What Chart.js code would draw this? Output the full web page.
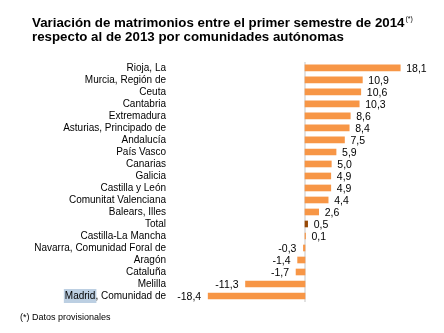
<!DOCTYPE html>
<html>
<head>
<meta charset="utf-8">
<script src="https://cdn.jsdelivr.net/npm/chart.js@4"></script>
<style>
  html, body { margin: 0; padding: 0; background: #fff; }
  #wrap { width: 444px; height: 333px; position: relative; }
</style>
</head>
<body>
<div id="wrap"><canvas id="myChart"></canvas></div>
<script>
// datos
const comunidades = [
    'Rioja, La', 'Murcia, Región de', 'Ceuta', 'Cantabria', 'Extremadura',
    'Asturias, Principado de', 'Andalucía', 'País Vasco', 'Canarias', 'Galicia',
    'Castilla y León', 'Comunitat Valenciana', 'Balears, Illes', 'Total',
    'Castilla-La Mancha', 'Navarra, Comunidad Foral de', 'Aragón', 'Cataluña',
    'Melilla', 'Madrid, Comunidad de'
];
const variacion = [18.1, 10.9, 10.6, 10.3, 8.6, 8.4, 7.5, 5.9, 5.0, 4.9,
    4.9, 4.4, 2.6, 0.5, 0.1, -0.3, -1.4, -1.7, -11.3, -18.4];
const tituloLineas = [
    'Variación de matrimonios entre el primer semestre de 2014',
    'respecto al de 2013 por comunidades autónomas'
];
const nota = '(*) Datos provisionales';

const FONT = "'Liberation Sans', Arial, sans-serif";
const NARANJA = '#f79646';
const MARRON = '#974806';
const HUECO = 39; // espacio entre etiquetas y barras

const colores = comunidades.map(c => c === 'Total' ? MARRON : NARANJA);

// linea del cero, etiquetas de valor, nota y resaltado de "Madrid"
const extras = {
    id: 'extras',
    beforeDatasetsDraw(chart) {
        const ctx = chart.ctx;
        const x0 = chart.scales.x.getPixelForValue(0);
        const area = chart.chartArea;
        ctx.save();
        ctx.strokeStyle = '#d9d9d9';
        ctx.lineWidth = 1.5;
        ctx.beginPath();
        ctx.moveTo(x0, area.top);
        ctx.lineTo(x0, area.bottom);
        ctx.stroke();
        ctx.restore();
    },
    beforeDraw(chart) {
        // resaltado (seleccion) detras de "Madrid"
        const ctx = chart.ctx;
        const y = chart.scales.y.getPixelForValue(comunidades.length - 1);
        const yScale = chart.scales.y;
        ctx.save();
        ctx.font = '10px ' + FONT;
        const full = ctx.measureText(comunidades[comunidades.length - 1]).width;
        const xr = yScale.right - HUECO;
        const xl = xr - full;
        const w = ctx.measureText('Madrid').width;
        ctx.fillStyle = '#bccfe2';
        ctx.fillRect(xl - 1, y - 7, w + 2, 14);
        ctx.restore();
    },
    afterDraw(chart) {
        const ctx = chart.ctx;
        const meta = chart.getDatasetMeta(0);
        ctx.save();
        ctx.font = '10.5px ' + FONT;
        ctx.fillStyle = '#000';
        ctx.textBaseline = 'middle';
        meta.data.forEach((bar, i) => {
            const v = variacion[i];
            const txt = v.toFixed(1).replace('.', ',');
            if (v >= 0) {
                ctx.textAlign = 'left';
                ctx.fillText(txt, bar.x + 6, bar.y + 1);
            } else {
                ctx.textAlign = 'right';
                ctx.fillText(txt, bar.x - 7, bar.y + 1);
            }
        });
        // superindice (*) del titulo
        const t = chart.titleBlock;
        ctx.font = 'bold 13.3px ' + FONT;
        const w = ctx.measureText(tituloLineas[0]).width;
        ctx.font = '7px ' + FONT;
        ctx.textAlign = 'left';
        ctx.fillText('(*)', t.left + w + 1, t.top + t.options.padding.top + 3);
        // nota
        ctx.font = '9px ' + FONT;
        ctx.fillText(nota, 20, 318);
        ctx.restore();
    }
};

const config = {
    type: 'bar',
    data: {
        labels: comunidades,
        datasets: [{
            data: variacion,
            backgroundColor: colores,
            borderWidth: 0,
            barThickness: 6,
        }]
    },
    options: {
        indexAxis: 'y',
        responsive: true,
        maintainAspectRatio: false,
        animation: false,
        layout: {
            padding: { left: 32, right: 39, top: 0, bottom: 31 }
        },
        plugins: {
            legend: false,
            tooltip: false,
            title: {
                display: true,
                text: tituloLineas,
                align: 'start',
                color: '#000',
                font: { family: FONT, size: 13.3, weight: 'bold', lineHeight: 1.05 },
                padding: { top: 16, bottom: 18 }
            }
        },
        scales: {
            x: {
                display: false,
                min: -19,
                max: 19,
            },
            y: {
                // marcas invisibles para separar etiquetas (el padding de ticks añade alto)
                grid: {
                    drawOnChartArea: false,
                    drawTicks: true,
                    tickLength: HUECO,
                    tickColor: 'rgba(0,0,0,0)',
                    color: 'rgba(0,0,0,0)'
                },
                border: { display: false },
                afterFit(scale) { scale.width = 173; },
                ticks: {
                    color: '#000',
                    padding: 0,
                    autoSkip: false,
                    font: { family: FONT, size: 10 }
                }
            }
        }
    },
    plugins: [extras]
};

const myChart = new Chart(document.getElementById('myChart'), config);
</script>
</body>
</html>
